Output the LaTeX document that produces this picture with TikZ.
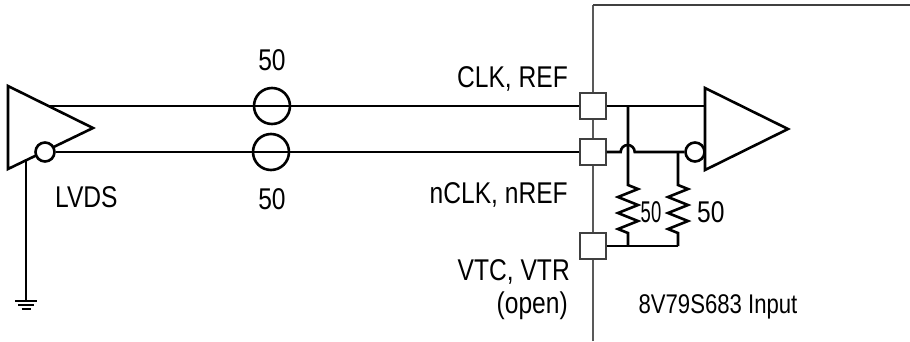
\documentclass[tikz,border=0pt]{standalone}
\usepackage{fontspec}
\setmainfont{Liberation Sans}[FakeStretch=0.82]

\begin{document}
\begin{tikzpicture}[x=1pt, y=-1pt]
    \tikzstyle{every node} = [inner sep=0pt, font=\fontsize{30}{34}\selectfont]
    \tikzstyle{wire} = [line width=2.6pt, line join=miter]
    \tikzstyle{pad} = [draw=black!75, fill=white, line width=1.4pt, minimum size=26pt]
    \tikzstyle{tline} = [draw, circle, line width=2.6pt, minimum size=36pt]
    \tikzstyle{bubble} = [draw, circle, fill=white, line width=2.6pt, minimum size=19pt]
    \tikzstyle{gndbar} = [line width=2.2pt]
    \useasboundingbox (0,0) rectangle (910,341);

    % chip outline
    \draw[black!65, line width=1.2pt] (593,341) -- (593,5);
    \draw[black!75, line width=2pt] (593,5) -- (910,5);

    % LVDS driver
    \coordinate (drvA) at (8,86);
    \coordinate (drvB) at (8,169);
    \coordinate (drvtip) at (93,128);
    \coordinate (drvout) at (50,106);
    \coordinate (gndtop) at (26,160);
    \coordinate (gnd) at (26,301);
    \draw[wire] (drvA) -- (drvtip) -- (drvB) -- cycle;
    \node[bubble] (drvbub) at (45,152) {};
    \draw[wire] (gndtop) -- (gnd);
    \draw[gndbar] ([xshift=-11pt]gnd) -- ([xshift=11pt]gnd);
    \draw[gndbar] ([xshift=-8pt,yshift=-4pt]gnd) -- ([xshift=8pt,yshift=-4pt]gnd);
    \draw[gndbar] ([xshift=-4.5pt,yshift=-8pt]gnd) -- ([xshift=4.5pt,yshift=-8pt]gnd);

    % pads
    \node[pad] (pclk) at (593,106) {};
    \node[pad] (pnclk) at (593,152) {};
    \node[pad] (pvt) at (593,246) {};

    % transmission lines
    \draw[wire] (drvout) -- (pclk.west);
    \draw[wire] (drvbub.east) -- (pnclk.west);
    \node[tline] (tl1) at (272,106) {};
    \node[tline] (tl2) at (271,152) {};

    % receiver
    \coordinate (rcvA) at (705,88);
    \coordinate (rcvB) at (705,170);
    \coordinate (rcvtip) at (788,129);
    \coordinate (rcvin) at (705,106);
    \coordinate (j1) at (628,106);
    \coordinate (j2) at (678,152);
    \coordinate (jb) at (628,246);
    \coordinate (jc) at (678,246);
    \draw[wire] (rcvA) -- (rcvtip) -- (rcvB) -- cycle;
    \node[bubble] (rcvbub) at (695,152) {};
    \draw[wire] (pclk.east) -- (rcvin);
    \draw[wire] (pnclk.east) -- ++(14,0) arc[start angle=180, end angle=360, radius=7] -- (rcvbub.west);

    % termination
    \draw[wire] (j1) -- ++(0,79) -- ++(10,4) -- ++(-20,8) -- ++(20,8) -- ++(-20,8)
        -- ++(20,8) -- ++(-20,8) -- ++(10,4) -- (jb);
    \draw[wire] (j2) -- ++(0,33) -- ++(10,4) -- ++(-20,8) -- ++(20,8) -- ++(-20,8)
        -- ++(20,8) -- ++(-20,8) -- ++(10,4) -- (jc);
    \draw[wire] (pvt.east) -- (jc);

    % labels
    \node[anchor=base] (z1) at (272,70) {50};
    \node[anchor=base] (z2) at (272,209) {50};
    \node[anchor=base west] (lvds) at (55,207) {LVDS};
    \node[anchor=base east] (lclk) at (568,87) {CLK, REF};
    \node[anchor=base east] (lnclk) at (568,203) {nCLK, nREF};
    \node[anchor=base east] (lvt) at (570,280) {VTC, VTR};
    \node[anchor=base east] (lopen) at (568,313) {(open)};
    \node[anchor=base, xscale=0.75] (r1) at (651,222) {50};
    \node[anchor=base west] (r2) at (697,222) {50};
    \node[anchor=base, font=\fontsize{27}{30}\selectfont] (lchip) at (718,313) {8V79S683 Input};
\end{tikzpicture}
\end{document}
